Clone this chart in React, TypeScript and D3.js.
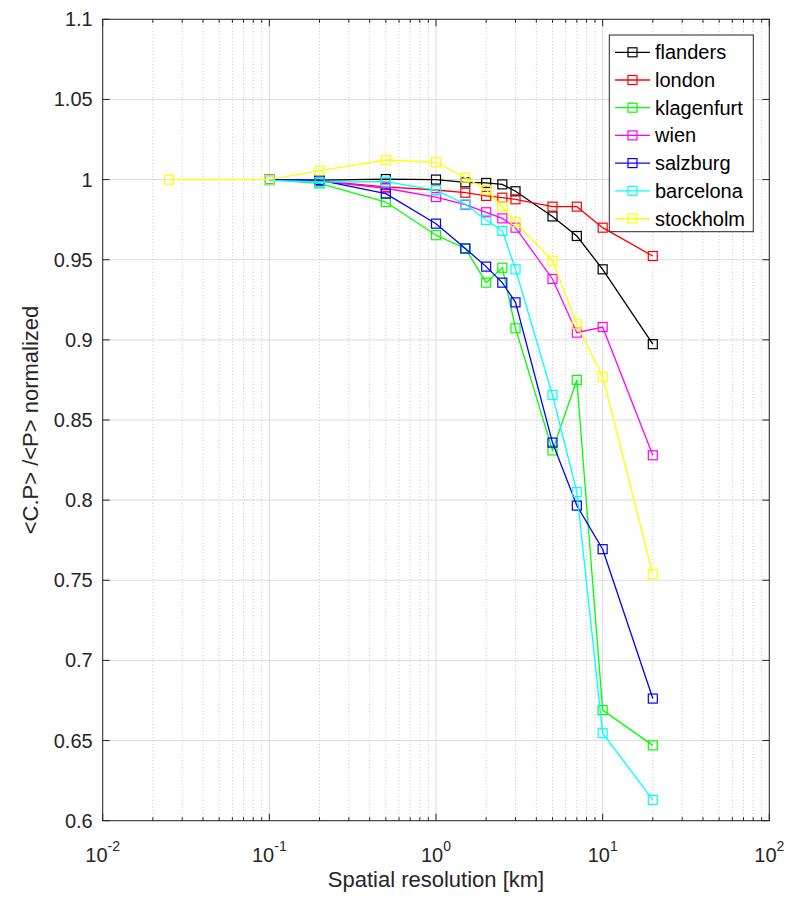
import React from "react";
import { useEffect, useRef } from "react";
import * as d3 from "d3";

// spatial resolution in km (stockholm is the only series with the 25 m point)
const resolution = [0.1, 0.2, 0.5, 1, 1.5, 2, 2.5, 3, 5, 7, 10, 20];
const resolutionStockholm = [0.025, 0.1, 0.2, 0.5, 1, 1.5, 2, 2.5, 3, 5, 7, 10, 20];

const flanders = [1.0, 0.9996, 1.0003, 1.0, 0.9983, 0.9979, 0.997, 0.9927, 0.977, 0.9648, 0.944, 0.8973];
const london = [1.0, 0.9992, 0.9955, 0.9935, 0.9918, 0.9898, 0.9887, 0.9877, 0.9831, 0.9831, 0.97, 0.9523];
const klagenfurt = [1.0, 0.9976, 0.986, 0.9653, 0.957, 0.9357, 0.945, 0.9072, 0.831, 0.875, 0.669, 0.647];
const wien = [1.0, 0.999, 0.9946, 0.9891, 0.9843, 0.9796, 0.9758, 0.97, 0.938, 0.9045, 0.908, 0.828];
const salzburg = [1.0, 0.9996, 0.9912, 0.9725, 0.957, 0.9457, 0.9357, 0.9234, 0.8359, 0.7966, 0.7694, 0.6762];
const barcelona = [0.9995, 0.9985, 0.9987, 0.9934, 0.9846, 0.9748, 0.968, 0.944, 0.8656, 0.805, 0.6546, 0.613];
const stockholm = [1.0, 1.0, 1.0056, 1.0122, 1.0108, 1.0012, 0.9935, 0.9831, 0.9734, 0.9494, 0.9097, 0.877, 0.7538];

const seriesNames = ["flanders", "london", "klagenfurt", "wien", "salzburg", "barcelona", "stockholm"];
const seriesColors = ["#000000", "#ff0000", "#00ff00", "#ff00ff", "#0000ff", "#00ffff", "#ffff00"];

const yTicks = [0.6, 0.65, 0.7, 0.75, 0.8, 0.85, 0.9, 0.95, 1, 1.05, 1.1];
const xDecades = [-2, -1, 0, 1, 2];

const App = () => {
  const svgRef = useRef<SVGSVGElement>(null);

  useEffect(() => {
    const width = 789;
    const height = 898;
    const margin = { top: 19.3, left: 102.7, right: 19.7, bottom: 77.3 };
    const axisColor = "#262626";
    const font = "'Liberation Sans', Arial, sans-serif";

    const svg = d3.select(svgRef.current)
      .attr("width", width)
      .attr("height", height);
    svg.selectAll("*").remove();

    const x = d3.scaleLog()
      .domain([0.01, 100])
      .range([margin.left, width - margin.right]);

    const y = d3.scaleLinear()
      .domain([0.6, 1.1])
      .range([height - margin.bottom, margin.top]);

    const x0 = margin.left, x1 = width - margin.right;
    const y0 = height - margin.bottom, y1 = margin.top;

    const minor: number[] = [];
    xDecades.slice(0, -1).forEach(e => {
      for (let k = 2; k <= 9; k++) minor.push(k * Math.pow(10, e));
    });
    const major = xDecades.map(e => Math.pow(10, e));

    // grid
    const grid = svg.append("g");
    grid.selectAll(".minor")
      .data(minor)
      .join("line")
      .attr("x1", d => x(d)).attr("x2", d => x(d))
      .attr("y1", y0).attr("y2", y1)
      .attr("stroke", "#c4c4c4")
      .attr("stroke-width", 1)
      .attr("stroke-dasharray", "1,2.3");
    grid.selectAll(".majorx")
      .data(major)
      .join("line")
      .attr("x1", d => x(d)).attr("x2", d => x(d))
      .attr("y1", y0).attr("y2", y1)
      .attr("stroke", "#dcdcdc")
      .attr("stroke-width", 1);
    grid.selectAll(".majory")
      .data(yTicks)
      .join("line")
      .attr("x1", x0).attr("x2", x1)
      .attr("y1", d => y(d)).attr("y2", d => y(d))
      .attr("stroke", "#dcdcdc")
      .attr("stroke-width", 1);

    // series
    const allY = [flanders, london, klagenfurt, wien, salzburg, barcelona, stockholm];
    const line = d3.line<[number, number]>()
      .x(d => x(d[0]))
      .y(d => y(d[1]));

    allY.forEach((vals, i) => {
      const xs = seriesNames[i] === "stockholm" ? resolutionStockholm : resolution;
      const pts: [number, number][] = vals.map((v, j) => [xs[j], v]);
      const g = svg.append("g");
      g.append("path")
        .attr("d", line(pts))
        .attr("fill", "none")
        .attr("stroke", seriesColors[i])
        .attr("stroke-width", 1.3);
      g.selectAll("rect")
        .data(pts)
        .join("rect")
        .attr("x", d => x(d[0]) - 4.5)
        .attr("y", d => y(d[1]) - 4.5)
        .attr("width", 9)
        .attr("height", 9)
        .attr("fill", "none")
        .attr("stroke", seriesColors[i])
        .attr("stroke-width", 1.2);
    });

    // axes box and ticks
    const ax = svg.append("g").attr("stroke", axisColor).attr("stroke-width", 1);
    ax.append("rect")
      .attr("x", x0).attr("y", y1)
      .attr("width", x1 - x0).attr("height", y0 - y1)
      .attr("fill", "none");
    major.forEach(d => {
      ax.append("line").attr("x1", x(d)).attr("x2", x(d)).attr("y1", y0).attr("y2", y0 - 7);
      ax.append("line").attr("x1", x(d)).attr("x2", x(d)).attr("y1", y1).attr("y2", y1 + 7);
    });
    minor.forEach(d => {
      ax.append("line").attr("x1", x(d)).attr("x2", x(d)).attr("y1", y0).attr("y2", y0 - 3.5);
      ax.append("line").attr("x1", x(d)).attr("x2", x(d)).attr("y1", y1).attr("y2", y1 + 3.5);
    });
    yTicks.forEach(d => {
      ax.append("line").attr("x1", x0).attr("x2", x0 + 7).attr("y1", y(d)).attr("y2", y(d));
      ax.append("line").attr("x1", x1).attr("x2", x1 - 7).attr("y1", y(d)).attr("y2", y(d));
    });

    // tick labels
    svg.append("g")
      .selectAll("text")
      .data(yTicks)
      .join("text")
      .attr("x", x0 - 10)
      .attr("y", d => y(d))
      .attr("dy", "0.35em")
      .attr("text-anchor", "end")
      .attr("font-family", font)
      .attr("font-size", 20)
      .attr("fill", axisColor)
      .text(d => String(d));

    const xl = svg.append("g")
      .selectAll("text")
      .data(xDecades)
      .join("text")
      .attr("x", d => x(Math.pow(10, d)))
      .attr("y", y0 + 41)
      .attr("text-anchor", "middle")
      .attr("font-family", font)
      .attr("font-size", 20)
      .attr("fill", axisColor);
    xl.append("tspan").text("10");
    xl.append("tspan")
      .attr("dy", -11)
      .attr("font-size", 14)
      .text(d => String(d));

    // axis labels
    svg.append("text")
      .attr("x", (x0 + x1) / 2)
      .attr("y", 887)
      .attr("text-anchor", "middle")
      .attr("font-family", font)
      .attr("font-size", 22)
      .attr("fill", axisColor)
      .text("Spatial resolution [km]");

    svg.append("text")
      .attr("transform", `translate(38,${(y0 + y1) / 2}) rotate(-90)`)
      .attr("text-anchor", "middle")
      .attr("font-family", font)
      .attr("font-size", 22)
      .attr("fill", axisColor)
      .text("<C.P> /<P> normalized");

    // legend
    const lg = svg.append("g");
    lg.append("rect")
      .attr("x", 609.3).attr("y", 35)
      .attr("width", 144).attr("height", 196.7)
      .attr("fill", "#ffffff")
      .attr("stroke", axisColor)
      .attr("stroke-width", 1);
    seriesNames.forEach((name, i) => {
      const ly = 52.3 + i * 27.7;
      lg.append("line")
        .attr("x1", 615).attr("x2", 650)
        .attr("y1", ly).attr("y2", ly)
        .attr("stroke", seriesColors[i])
        .attr("stroke-width", 1.3);
      lg.append("rect")
        .attr("x", 632.5 - 4.5).attr("y", ly - 4.5)
        .attr("width", 9).attr("height", 9)
        .attr("fill", "none")
        .attr("stroke", seriesColors[i])
        .attr("stroke-width", 1.2);
      lg.append("text")
        .attr("x", 655)
        .attr("y", ly)
        .attr("dy", "0.35em")
        .attr("font-family", font)
        .attr("font-size", 20)
        .attr("fill", "#000000")
        .text(name);
    });
  }, []);

  return <svg ref={svgRef} style={{ position: "absolute", left: 0, top: 0, display: "block" }} />;
};

export default App;
